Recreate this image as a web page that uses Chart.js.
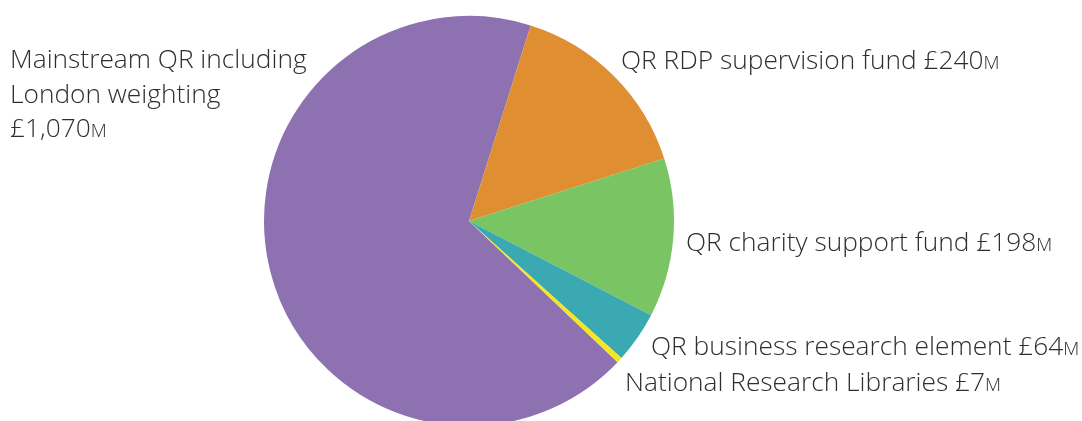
<!DOCTYPE html>
<html>
<head>
<meta charset="utf-8">
<script src="https://cdn.jsdelivr.net/npm/chart.js@4"></script>
<style>
  html, body { margin: 0; padding: 0; background: #fff; overflow: hidden; }
  #wrap { width: 1082px; height: 421px; overflow: hidden; }
</style>
</head>
<body>
<div id="wrap"><canvas id="chart" width="1082" height="440"></canvas></div>
<script>
// Funding split (values in £m)
const labels = [
    "Mainstream QR including London weighting",
    "QR RDP supervision fund",
    "QR charity support fund",
    "QR business research element",
    "National Research Libraries"
];
const values = [1070, 240, 198, 64, 7];
const amounts = ["£1,070", "£240", "£198", "£64", "£7"];
const colors = ["#8E71B1", "#E08E32", "#79C463", "#3AA9B1", "#F5E620"];

// Label text lines, drawn beside the pie
const labelLines = [
    ["Mainstream QR including", "London weighting", ""],
    ["QR RDP supervision fund "],
    ["QR charity support fund "],
    ["QR business research element "],
    ["National Research Libraries "]
];
const labelPos = [
    { x: 10, y: 59 }, { x: 621, y: 60 }, { x: 686, y: 242 },
    { x: 651, y: 346 }, { x: 625, y: 382 }
];

const sideLabels = {
    id: "sideLabels",
    afterDraw(chart) {
        const ctx = chart.ctx;
        ctx.save();
        ctx.fillStyle = "#2e2e2e";
        ctx.textBaseline = "alphabetic";
        labelLines.forEach((lines, i) => {
            const p = labelPos[i];
            lines.forEach((line, j) => {
                const y = p.y + j * 34.5 + 9;
                ctx.font = "300 26.3px 'Open Sans'";
                let x = p.x;
                ctx.fillText(line, x, y);
                if (j === lines.length - 1) {
                    x += ctx.measureText(line).width;
                    ctx.fillText(amounts[i], x, y);
                    x += ctx.measureText(amounts[i]).width;
                    ctx.font = "300 18.5px 'Open Sans'";
                    ctx.fillText("M", x, y);
                }
            });
        });
        ctx.restore();
    }
};

new Chart(document.getElementById("chart").getContext("2d"), {
    type: "pie",
    data: {
        labels: labels,
        datasets: [{
            data: values,
            backgroundColor: colors,
            borderWidth: 0
        }]
    },
    options: {
        responsive: false,
        animation: false,
        rotation: 133.55,
        layout: { padding: { top: 16, bottom: 14, left: 264, right: 408 } },
        plugins: {
            legend: { display: false },
            tooltip: { enabled: false }
        }
    },
    plugins: [sideLabels]
});
</script>
</body>
</html>
